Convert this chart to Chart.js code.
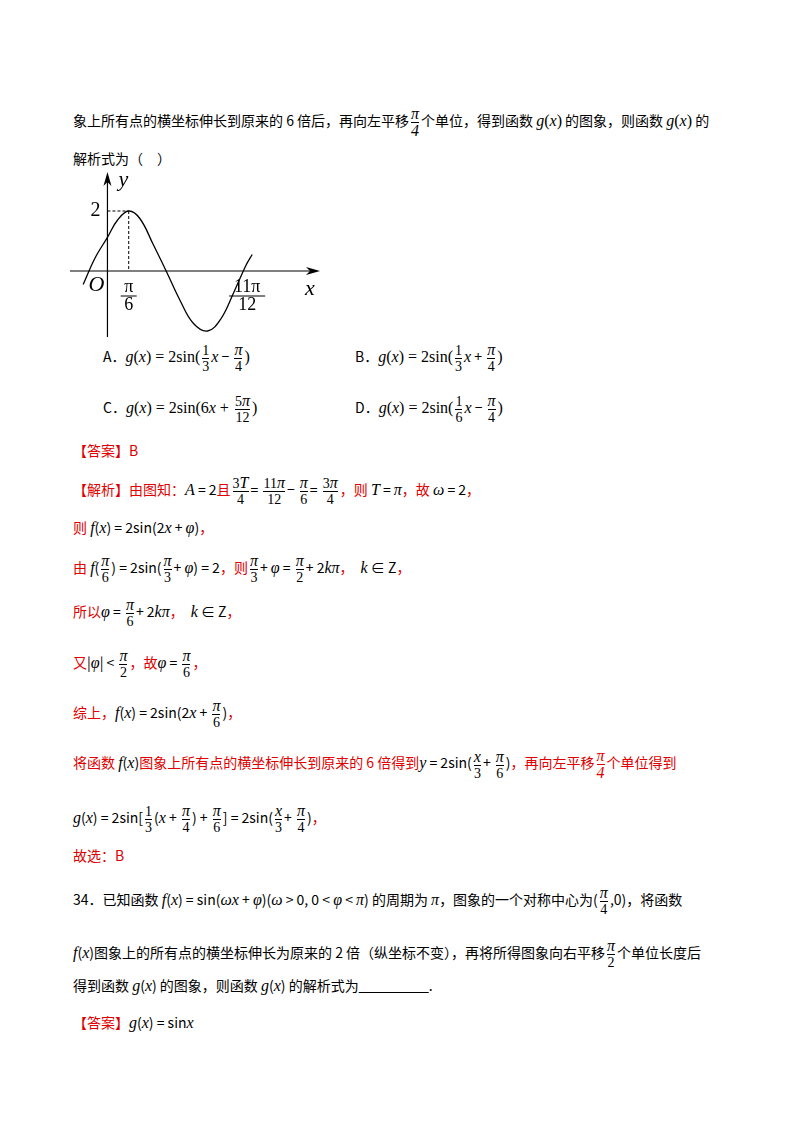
<!DOCTYPE html>
<html><head><meta charset="utf-8">
<script src="https://cdn.jsdelivr.net/npm/chart.js@4/dist/chart.umd.min.js"></script>
<style>
body{margin:0;background:#fff;font-family:"Noto Sans CJK SC","Liberation Serif",serif;font-size:14px;color:#000}
.l{position:absolute;left:73px;white-space:nowrap}
.r{color:#e00000}
i{font-family:"Liberation Serif",serif;font-size:16px}
.m{font-family:"Liberation Serif",serif;font-size:16px}
.fr{display:inline-block;vertical-align:middle;text-align:center;font-family:"Liberation Serif",serif;font-size:14px;line-height:15px;margin:0 2px}
.fr span{display:block}.fr span:first-child{border-bottom:1px solid currentColor}
#cw{position:absolute;left:70px;top:172px;width:250px;height:165px}
</style></head><body>
<div class="l" style="top:106px">象上所有点的横坐标伸长到原来的 6 倍后，再向左平移<span class="fr"><span><i>π</i></span><span><i>4</i></span></span>个单位，得到函数 <i>g</i><span class="m">(<i>x</i>)</span> 的图象，则函数 <i>g</i><span class="m">(<i>x</i>)</span> 的</div>
<div class="l" style="top:148px">解析式为（　）</div>
<div id="cw"><canvas id="c"></canvas></div>
<div class="l" style="top:342px;left:103px">A．<i>g</i><span class="m">(<i>x</i>) = 2sin(</span><span class="fr"><span>1</span><span>3</span></span><i>x</i> − <span class="fr"><span><i>π</i></span><span>4</span></span><span class="m">)</span></div>
<div class="l" style="top:342px;left:355px">B．<i>g</i><span class="m">(<i>x</i>) = 2sin(</span><span class="fr"><span>1</span><span>3</span></span><i>x</i> + <span class="fr"><span><i>π</i></span><span>4</span></span><span class="m">)</span></div>
<div class="l" style="top:393px;left:103px">C．<i>g</i><span class="m">(<i>x</i>) = 2sin(6<i>x</i> + </span><span class="fr"><span>5<i>π</i></span><span>12</span></span><span class="m">)</span></div>
<div class="l" style="top:393px;left:355px">D．<i>g</i><span class="m">(<i>x</i>) = 2sin(</span><span class="fr"><span>1</span><span>6</span></span><i>x</i> − <span class="fr"><span><i>π</i></span><span>4</span></span><span class="m">)</span></div>
<div class="l r" style="top:440px">【答案】B</div>
<div class="l" style="top:475px"><span class="r">【解析】由图知：</span><i>A</i> = 2<span class="r">且</span><span class="fr"><span>3<i>T</i></span><span>4</span></span>= <span class="fr"><span>11<i>π</i></span><span>12</span></span>− <span class="fr"><span><i>π</i></span><span>6</span></span>= <span class="fr"><span>3<i>π</i></span><span>4</span></span><span class="r">，则</span> <i>T</i> = <i>π</i><span class="r">，故</span> <i>ω</i> = 2<span class="r">，</span></div>
<div class="l" style="top:517px"><span class="r">则</span> <i>f</i>(<i>x</i>) = 2sin(2<i>x</i> + <i>φ</i>)<span class="r">，</span></div>
<div class="l" style="top:553px"><span class="r">由</span> <i>f</i>(<span class="fr"><span><i>π</i></span><span>6</span></span>) = 2sin(<span class="fr"><span><i>π</i></span><span>3</span></span>+ <i>φ</i>) = 2<span class="r">，则</span><span class="fr"><span><i>π</i></span><span>3</span></span>+ <i>φ</i> = <span class="fr"><span><i>π</i></span><span>2</span></span>+ 2<i>kπ</i><span class="r">，</span>　<i>k</i> ∈ Z<span class="r">，</span></div>
<div class="l" style="top:597px"><span class="r">所以</span><i>φ</i> = <span class="fr"><span><i>π</i></span><span>6</span></span>+ 2<i>kπ</i><span class="r">，</span>　<i>k</i> ∈ Z<span class="r">，</span></div>
<div class="l" style="top:648px"><span class="r">又</span>|<i>φ</i>| &lt; <span class="fr"><span><i>π</i></span><span>2</span></span><span class="r">，故</span><i>φ</i> = <span class="fr"><span><i>π</i></span><span>6</span></span><span class="r">，</span></div>
<div class="l" style="top:698px"><span class="r">综上，</span><i>f</i>(<i>x</i>) = 2sin(2<i>x</i> + <span class="fr"><span><i>π</i></span><span>6</span></span>)<span class="r">，</span></div>
<div class="l r" style="top:748px">将函数 <span style="color:#000"><i>f</i>(<i>x</i>)</span>图象上所有点的横坐标伸长到原来的 6 倍得到<span style="color:#000"><i>y</i> = 2sin(<span class="fr"><span><i>x</i></span><span>3</span></span>+ <span class="fr"><span><i>π</i></span><span>6</span></span>)</span>，再向左平移<span class="fr"><span><i>π</i></span><span><i>4</i></span></span>个单位得到</div>
<div class="l" style="top:803px"><i>g</i>(<i>x</i>) = 2sin[<span class="fr"><span>1</span><span>3</span></span>(<i>x</i> + <span class="fr"><span><i>π</i></span><span>4</span></span>) + <span class="fr"><span><i>π</i></span><span>6</span></span>] = 2sin(<span class="fr"><span><i>x</i></span><span>3</span></span>+ <span class="fr"><span><i>π</i></span><span>4</span></span>)<span class="r">，</span></div>
<div class="l r" style="top:845px">故选：B</div>
<div class="l" style="top:885px">34．已知函数 <i>f</i>(<i>x</i>) = sin(<i>ωx</i> + <i>φ</i>)(<i>ω</i> &gt; 0, 0 &lt; <i>φ</i> &lt; <i>π</i>) 的周期为 <i>π</i>，图象的一个对称中心为(<span class="fr"><span><i>π</i></span><span>4</span></span>,0)，将函数</div>
<div class="l" style="top:938px"><i>f</i>(<i>x</i>)图象上的所有点的横坐标伸长为原来的 2 倍（纵坐标不变），再将所得图象向右平移<span class="fr"><span><i>π</i></span><span>2</span></span>个单位长度后</div>
<div class="l" style="top:975px">得到函数 <i>g</i>(<i>x</i>) 的图象，则函数 <i>g</i>(<i>x</i>) 的解析式为<u>　　　　　</u>.</div>
<div class="l" style="top:1012px"><span class="r">【答案】</span><i>g</i>(<i>x</i>) = sin<i>x</i></div>
<script>
const xs=[-24,-12,0,10,21,32,45,58,72,85,99,112,125,137,143];
const ys=[-0.45,0.45,1.12,1.7,2,1.75,0.9,0,-1.0,-1.75,-2,-1.6,-0.7,0.2,0.55];
const peakX=21, peakY=2, endX=138;
const axisPlug={id:'ax',afterDatasetsDraw(ch){
 const c=ch.ctx,x=ch.scales.x,y=ch.scales.y;const ox=x.getPixelForValue(0),oy=y.getPixelForValue(0);
 c.save();c.strokeStyle='#000';c.fillStyle='#000';c.lineWidth=1.2;
 c.beginPath();c.moveTo(x.left,oy);c.lineTo(x.right-4,oy);c.moveTo(ox,y.bottom);c.lineTo(ox,y.top+4);c.stroke();
 c.beginPath();c.moveTo(x.right,oy);c.lineTo(x.right-14,oy-4);c.lineTo(x.right-10,oy);c.lineTo(x.right-14,oy+4);c.fill();
 c.beginPath();c.moveTo(ox,y.top);c.lineTo(ox-4,y.top+14);c.lineTo(ox,y.top+10);c.lineTo(ox+4,y.top+14);c.fill();
 const px=x.getPixelForValue(peakX),py=y.getPixelForValue(peakY);
 c.setLineDash([3,2]);c.lineWidth=1;c.beginPath();c.moveTo(ox,py);c.lineTo(px,py);c.moveTo(px,py);c.lineTo(px,oy);c.stroke();c.setLineDash([]);
 c.font='20px "Liberation Serif"';c.textAlign='center';c.textBaseline='middle';
 c.fillText('2',ox-12,py);c.font='italic 22px "Liberation Serif"';c.fillText('y',ox+16,y.top+8);c.fillText('O',ox-11,oy+14);
 c.fillText('x',x.right-10,oy+18);c.font='18px "Liberation Serif"';
 c.fillText('π',px,oy+16);c.fillText('6',px,oy+34);c.beginPath();c.moveTo(px-8,oy+25);c.lineTo(px+8,oy+25);c.stroke();
 const ex=x.getPixelForValue(endX);c.fillText('11π',ex,oy+16);c.fillText('12',ex,oy+34);c.beginPath();c.moveTo(ex-18,oy+25);c.lineTo(ex+18,oy+25);c.stroke();
 c.restore();}};
new Chart(document.getElementById('c'),{type:'scatter',
 data:{datasets:[{data:xs.map((v,i)=>({x:v,y:ys[i]})),showLine:true,tension:0.4,pointRadius:0,borderColor:'#000',borderWidth:1.3}]},
 options:{responsive:true,maintainAspectRatio:false,animation:false,layout:{padding:0},
 plugins:{legend:{display:false},tooltip:{enabled:false}},
 scales:{x:{type:'linear',min:-37,max:210,display:false},y:{min:-2.2,max:3.3,display:false}}},
 plugins:[axisPlug]});
</script>
</body></html>
